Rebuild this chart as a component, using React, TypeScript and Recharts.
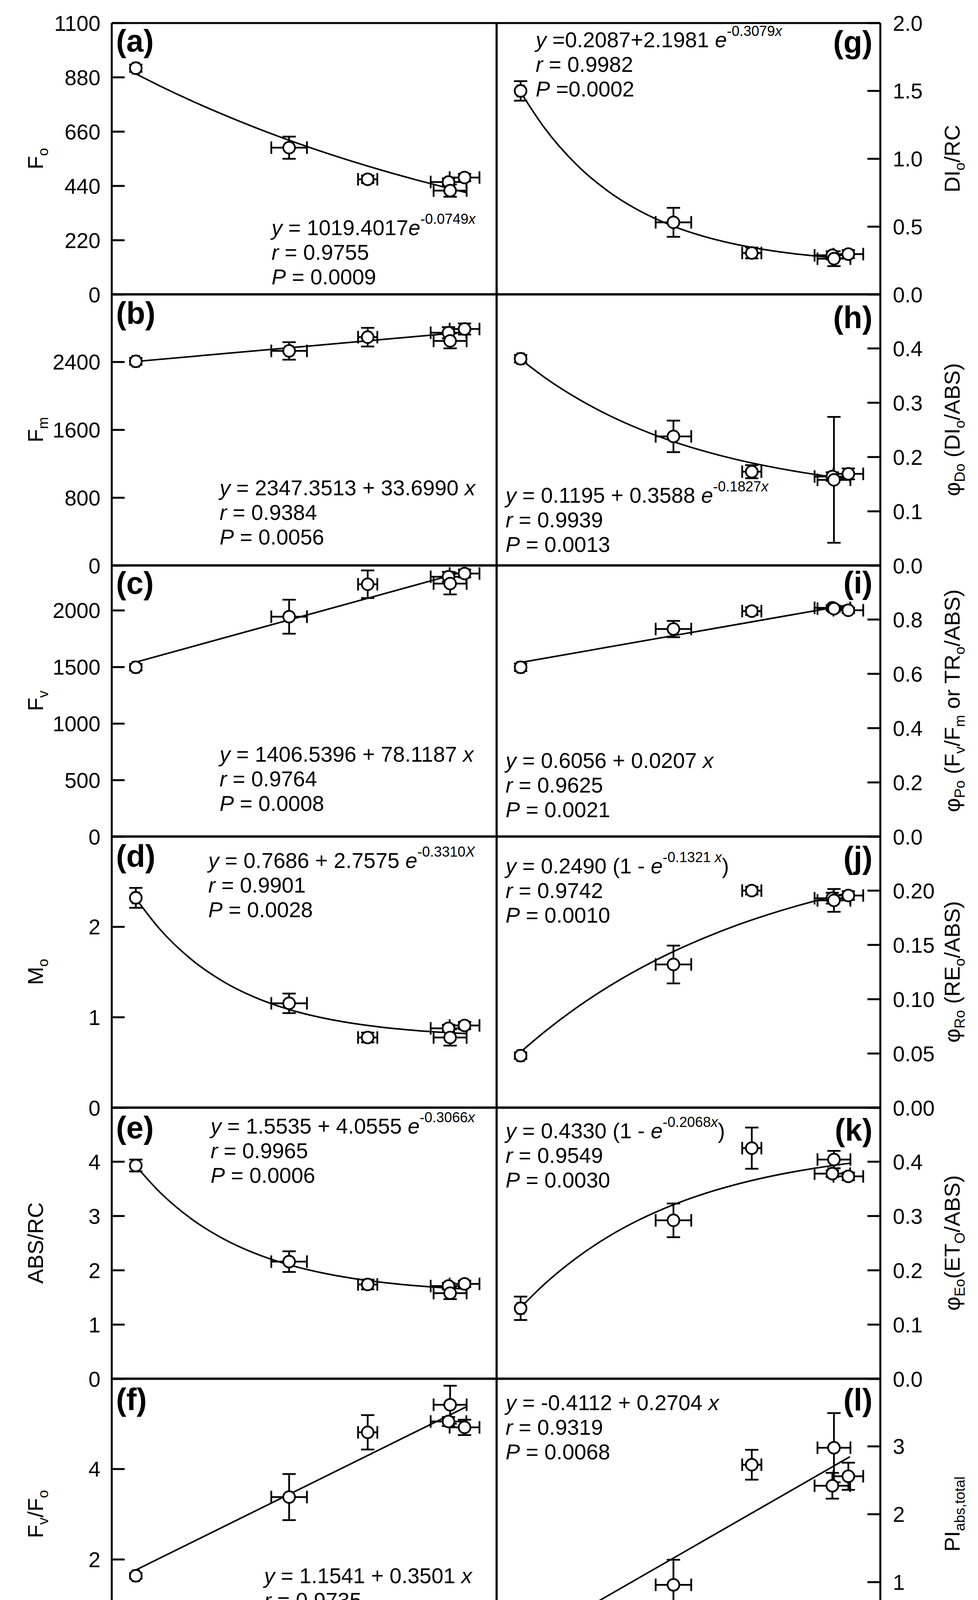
import React from 'react'
import { ComposedChart, ErrorBar, Line, Scatter, XAxis, YAxis } from 'recharts'

// CO2 assimilation of the six treatments (x) and their horizontal errors
const CO2 = [1.75, 6.53, 8.98, 11.5, 11.55, 12.0]
const CO2_SE = [0.1, 0.556, 0.3, 0.556, 0.515, 0.465]

// x positions where the fitted curves were read
const FIT_X = [1.75, 2.5, 3.5, 4.5, 5.5, 6.5, 7.5, 8.5, 9.5, 10.5, 11.5, 12.05]
const LIN_X = [1.75, 12.05]
const X_TICKS = [1, 4, 7, 10, 13]

const FO = [917, 595, 467, 456, 421, 474]
const FO_SE = [15, 45, 15, 15, 25, 15]
const FO_FIT = [894.1, 845.3, 784.3, 727.8, 675.3, 626.6, 581.3, 539.4, 500.5, 464.4, 430.8, 413.4]

const FM = [2408, 2531, 2693, 2745, 2649, 2789]
const FM_SE = [40, 103, 110, 66, 88, 66]
const FM_FIT = [2406.3, 2753.4]

const FV = [1498, 1945, 2232, 2298, 2238, 2327]
const FV_SE = [29, 150, 122, 43, 96, 35]
const FV_FIT = [1543.2, 2347.9]

const MO = [2.32, 1.155, 0.777, 0.878, 0.777, 0.91]
const MO_SE = [0.11, 0.108, 0.054, 0.04, 0.09, 0.04]
const MO_FIT = [2.3136, 1.9739, 1.6345, 1.3905, 1.2153, 1.0894, 0.999, 0.9341, 0.8874, 0.8539, 0.8299, 0.8197]

const ABS_RC = [3.93, 2.16, 1.74, 1.71, 1.58, 1.75]
const ABS_RC_SE = [0.11, 0.19, 0.09, 0.06, 0.11, 0.06]
const ABS_RC_FIT = [3.9248, 3.4377, 2.9401, 2.5743, 2.3046, 2.1063, 1.9603, 1.8529, 1.7738, 1.7156, 1.6728, 1.6543]

const FV_FO = [1.64, 3.38, 4.81, 5.05, 5.42, 4.92]
const FV_FO_SE = [0.06, 0.51, 0.38, 0.1, 0.42, 0.17]
const FV_FO_FIT = [1.767, 5.373]

const DI_RC = [1.5, 0.532, 0.306, 0.289, 0.264, 0.298]
const DI_RC_SE = [0.072, 0.107, 0.04, 0.03, 0.055, 0.03]
const DI_RC_FIT = [1.4911, 1.2267, 0.9569, 0.7587, 0.6129, 0.5057, 0.427, 0.3692, 0.3267, 0.2954, 0.2724, 0.2625]

const PHI_DO = [0.381, 0.238, 0.173, 0.164, 0.158, 0.169]
const PHI_DO_SE = [0.007, 0.029, 0.012, 0.008, 0.116, 0.01]
const PHI_DO_FIT = [0.3801, 0.3467, 0.3088, 0.2772, 0.2509, 0.2289, 0.2107, 0.1954, 0.1828, 0.1722, 0.1634, 0.1592]

const PHI_PO = [0.624, 0.765, 0.831, 0.843, 0.84, 0.834]
const PHI_PO_SE = [0.014, 0.03, 0.014, 0.01, 0.012, 0.01]
const PHI_PO_FIT = [0.6418, 0.855]

const PHI_RO = [0.048, 0.132, 0.2, 0.193, 0.191, 0.1955]
const PHI_RO_SE = [0.003, 0.0174, 0.0036, 0.005, 0.0105, 0.004]
const PHI_RO_FIT = [0.0514, 0.07, 0.0922, 0.1116, 0.1286, 0.1435, 0.1565, 0.168, 0.178, 0.1868, 0.1945, 0.1983]

const PHI_EO = [0.13, 0.292, 0.425, 0.378, 0.404, 0.373]
const PHI_EO_SE = [0.0216, 0.031, 0.038, 0.006, 0.016, 0.007]
const PHI_EO_FIT = [0.1315, 0.1748, 0.223, 0.2623, 0.2942, 0.3201, 0.3412, 0.3583, 0.3723, 0.3836, 0.3929, 0.3972]

const PI_ABS = [0.07, 0.96, 2.73, 2.42, 2.98, 2.56]
const PI_ABS_SE = [0.04, 0.37, 0.22, 0.19, 0.51, 0.2]
const PI_ABS_FIT = [0.062, 2.8471]

// text segments: [text, flags]  i = italic, s = superscript, b = subscript
type Seg = [string, string?]

const FONT = '"Liberation Sans", Arial, sans-serif'
const W = 2503
const H = 4411
const TOP = 59
const PANEL_H = 694
const LEFT_X0 = 286
const MID_X = 1271
const RIGHT_X1 = 2253

interface PanelDef {
  letter: string
  letterY: number
  col: 0 | 1
  row: number
  y: number[]
  se: number[]
  fitX: number[]
  fit: number[]
  domain: [number, number]
  ticks: number[]
  dec: number
  title: Seg[]
  eq: Seg[][]
  eqX: number
  eqY: number
}

const PANELS: PanelDef[] = [
  {
    letter: '(a)', letterY: 73, col: 0, row: 0, y: FO, se: FO_SE, fitX: FIT_X, fit: FO_FIT,
    domain: [0, 1100], ticks: [0, 220, 440, 660, 880, 1100], dec: 0,
    title: [['F'], ['o', 'b']],
    eq: [[['y', 'i'], [' = 1019.4017'], ['e', 'i'], ['-0.0749', 's'], ['x', 'si']], [['r', 'i'], [' = 0.9755']], [['P', 'i'], [' = 0.0009']]],
    eqX: 695, eqY: 543,
  },
  {
    letter: '(b)', letterY: 76, col: 0, row: 1, y: FM, se: FM_SE, fitX: LIN_X, fit: FM_FIT,
    domain: [0, 3200], ticks: [0, 800, 1600, 2400], dec: 0,
    title: [['F'], ['m', 'b']],
    eq: [[['y', 'i'], [' = 2347.3513 + 33.6990 '], ['x', 'i']], [['r', 'i'], [' = 0.9384']], [['P', 'i'], [' = 0.0056']]],
    eqX: 562, eqY: 515,
  },
  {
    letter: '(c)', letterY: 73, col: 0, row: 2, y: FV, se: FV_SE, fitX: LIN_X, fit: FV_FIT,
    domain: [0, 2400], ticks: [0, 500, 1000, 1500, 2000], dec: 0,
    title: [['F'], ['v', 'b']],
    eq: [[['y', 'i'], [' = 1406.5396 + 78.1187 '], ['x', 'i']], [['r', 'i'], [' = 0.9764']], [['P', 'i'], [' = 0.0008']]],
    eqX: 562, eqY: 503,
  },
  {
    letter: '(d)', letterY: 78, col: 0, row: 3, y: MO, se: MO_SE, fitX: FIT_X, fit: MO_FIT,
    domain: [0, 3], ticks: [0, 1, 2], dec: 0,
    title: [['M'], ['o', 'b']],
    eq: [[['y', 'i'], [' = 0.7686 + 2.7575 '], ['e', 'i'], ['-0.3310', 's'], ['X', 'si']], [['r', 'i'], [' = 0.9901']], [['P', 'i'], [' = 0.0028']]],
    eqX: 533, eqY: 81,
  },
  {
    letter: '(e)', letterY: 79, col: 0, row: 4, y: ABS_RC, se: ABS_RC_SE, fitX: FIT_X, fit: ABS_RC_FIT,
    domain: [0, 5], ticks: [0, 1, 2, 3, 4], dec: 0,
    title: [['ABS/RC']],
    eq: [[['y', 'i'], [' = 1.5535 + 4.0555 '], ['e', 'i'], ['-0.3066', 's'], ['x', 'si']], [['r', 'i'], [' = 0.9965']], [['P', 'i'], [' = 0.0006']]],
    eqX: 539, eqY: 67,
  },
  {
    letter: '(f)', letterY: 81, col: 0, row: 5, y: FV_FO, se: FV_FO_SE, fitX: LIN_X, fit: FV_FO_FIT,
    domain: [0, 6], ticks: [0, 2, 4], dec: 0,
    title: [['F'], ['v', 'b'], ['/F'], ['o', 'b']],
    eq: [[['y', 'i'], [' = 1.1541 + 0.3501 '], ['x', 'i']], [['r', 'i'], [' = 0.9735']], [['P', 'i'], [' = 0.0010']]],
    eqX: 676, eqY: 524,
  },
  {
    letter: '(g)', letterY: 76, col: 1, row: 0, y: DI_RC, se: DI_RC_SE, fitX: FIT_X, fit: DI_RC_FIT,
    domain: [0, 2], ticks: [0, 0.5, 1, 1.5, 2], dec: 1,
    title: [['DI'], ['o', 'b'], ['/RC']],
    eq: [[['y', 'i'], [' =0.2087+2.1981 '], ['e', 'i'], ['-0.3079', 's'], ['x', 'si']], [['r', 'i'], [' = 0.9982']], [['P', 'i'], [' =0.0002']]],
    eqX: 1371, eqY: 62,
  },
  {
    letter: '(h)', letterY: 87, col: 1, row: 1, y: PHI_DO, se: PHI_DO_SE, fitX: FIT_X, fit: PHI_DO_FIT,
    domain: [0, 0.5], ticks: [0, 0.1, 0.2, 0.3, 0.4], dec: 1,
    title: [['φ'], ['Do', 'b'], [' (DI'], ['o', 'b'], ['/ABS)']],
    eq: [[['y', 'i'], [' = 0.1195 + 0.3588 '], ['e', 'i'], ['-0.1827', 's'], ['x', 'si']], [['r', 'i'], [' = 0.9939']], [['P', 'i'], [' = 0.0013']]],
    eqX: 1294, eqY: 534,
  },
  {
    letter: '(i)', letterY: 72, col: 1, row: 2, y: PHI_PO, se: PHI_PO_SE, fitX: LIN_X, fit: PHI_PO_FIT,
    domain: [0, 1], ticks: [0, 0.2, 0.4, 0.6, 0.8], dec: 1,
    title: [['φ'], ['Po', 'b'], [' (F'], ['v', 'b'], ['/F'], ['m', 'b'], [' or TR'], ['o', 'b'], ['/ABS)']],
    eq: [[['y', 'i'], [' = 0.6056 + 0.0207 '], ['x', 'i']], [['r', 'i'], [' = 0.9625']], [['P', 'i'], [' = 0.0021']]],
    eqX: 1294, eqY: 519,
  },
  {
    letter: '(j)', letterY: 82, col: 1, row: 3, y: PHI_RO, se: PHI_RO_SE, fitX: FIT_X, fit: PHI_RO_FIT,
    domain: [0, 0.25], ticks: [0, 0.05, 0.1, 0.15, 0.2], dec: 2,
    title: [['φ'], ['Ro', 'b'], [' (RE'], ['o', 'b'], ['/ABS)']],
    eq: [[['y', 'i'], [' = 0.2490 (1 - '], ['e', 'i'], ['-0.1321 ', 's'], ['x', 'si'], [')']], [['r', 'i'], [' = 0.9742']], [['P', 'i'], [' = 0.0010']]],
    eqX: 1294, eqY: 95,
  },
  {
    letter: '(k)', letterY: 85, col: 1, row: 4, y: PHI_EO, se: PHI_EO_SE, fitX: FIT_X, fit: PHI_EO_FIT,
    domain: [0, 0.5], ticks: [0, 0.1, 0.2, 0.3, 0.4], dec: 1,
    title: [['φ'], ['Eo', 'b'], ['(ET'], ['O', 'b'], ['/ABS)']],
    eq: [[['y', 'i'], [' = 0.4330 (1 - '], ['e', 'i'], ['-0.2068', 's'], ['x', 'si'], [')']], [['r', 'i'], [' = 0.9549']], [['P', 'i'], [' = 0.0030']]],
    eqX: 1294, eqY: 79,
  },
  {
    letter: '(l)', letterY: 82, col: 1, row: 5, y: PI_ABS, se: PI_ABS_SE, fitX: LIN_X, fit: PI_ABS_FIT,
    domain: [0, 4], ticks: [0, 1, 2, 3], dec: 0,
    title: [['PI'], ['abs,total', 'b']],
    eq: [[['y', 'i'], [' = -0.4112 + 0.2704 '], ['x', 'i']], [['r', 'i'], [' = 0.9319']], [['P', 'i'], [' = 0.0068']]],
    eqX: 1294, eqY: 81,
  },
]

const X_TITLE: Seg[] = [['CO'], ['2', 'b'], [' assimilation ('], ['μ'], ['mol m'], ['-2', 's'], [' s'], ['-1', 's'], [')']]

const LINE = { stroke: '#000', strokeWidth: 5 }

function Segs({ segs, size }: { segs: Seg[]; size: number }) {
  let shift = 0
  return (
    <>
      {segs.map(([t, f = ''], k) => {
        const sup = f.includes('s')
        const sub = f.includes('b')
        const target = sup ? -size * 0.52 : sub ? size * 0.24 : 0
        const dy = target - shift
        shift = target
        return (
          <tspan
            key={k}
            dy={dy}
            fontStyle={f.includes('i') ? 'italic' : 'normal'}
            fontSize={sup || sub ? size * 0.66 : size}
          >
            {t}
          </tspan>
        )
      })}
    </>
  )
}

const Dot = (props: any) => (
  <circle cx={props.cx} cy={props.cy} r={15} fill="#fff" stroke="#000" strokeWidth={4.5} />
)

function Panel({ p }: { p: PanelDef }) {
  const left = p.col === 0
  const bottom = p.row === 5
  const mb = bottom ? 120 : 59
  // axes are 1px wide, so margins are one less than the 60px gutter
  const margin = left
    ? { top: 59, left: LEFT_X0 - 1, right: 59, bottom: mb }
    : { top: 59, left: 59, right: 249, bottom: mb }
  const width = left ? MID_X + 60 : RIGHT_X1 - MID_X + 60 + 250
  const height = PANEL_H + 61 + 1 + mb
  const pts = CO2.map((x, i) => ({ x, y: p.y[i], ex: CO2_SE[i], ey: p.se[i] }))
  const fit = p.fitX.map((x, i) => ({ x, y: p.fit[i] }))
  const tickFont = { fill: '#000', fontSize: 55, fontFamily: FONT }

  return (
    <div style={{ position: 'absolute', left: left ? 0 : MID_X - 60, top: TOP + p.row * PANEL_H - 60 }}>
      <ComposedChart width={width} height={height} margin={margin}>
        <XAxis
          xAxisId="b"
          type="number"
          dataKey="x"
          domain={[1, 13]}
          ticks={X_TICKS}
          allowDataOverflow
          height={1}
          axisLine={LINE}
          tickLine={LINE}
          tickSize={-30}
          tickMargin={72}
          tick={bottom ? tickFont : false}
          interval={0}
        />
        <XAxis
          xAxisId="t"
          orientation="top"
          type="number"
          domain={[1, 13]}
          allowDataOverflow
          height={1}
          axisLine={LINE}
          tick={false}
          tickLine={false}
        />
        <YAxis
          yAxisId="v"
          orientation={left ? 'left' : 'right'}
          type="number"
          dataKey="y"
          domain={p.domain}
          ticks={p.ticks}
          allowDataOverflow
          width={1}
          axisLine={LINE}
          tickLine={LINE}
          tickSize={-33}
          tickMargin={left ? 62 : 65}
          tick={tickFont}
          interval={0}
          tickFormatter={(v: number) => v.toFixed(p.dec)}
        />
        <YAxis
          yAxisId="o"
          orientation={left ? 'right' : 'left'}
          type="number"
          domain={p.domain}
          allowDataOverflow
          width={1}
          axisLine={LINE}
          tick={false}
          tickLine={false}
        />
        <Line
          xAxisId="b"
          yAxisId="v"
          data={fit}
          dataKey="y"
          type="monotone"
          dot={false}
          activeDot={false}
          stroke="#000"
          strokeWidth={4}
          isAnimationActive={false}
        />
        <Scatter xAxisId="b" yAxisId="v" data={pts} dataKey="y" shape={Dot} isAnimationActive={false}>
          <ErrorBar dataKey="ex" direction="x" width={16} stroke="#000" strokeWidth={4.5} isAnimationActive={false} />
          <ErrorBar dataKey="ey" direction="y" width={17} stroke="#000" strokeWidth={4.5} isAnimationActive={false} />
        </Scatter>
      </ComposedChart>
    </div>
  )
}

function Labels() {
  return (
    <svg
      width={W}
      height={H}
      style={{ position: 'absolute', left: 0, top: 0, pointerEvents: 'none' }}
      fontFamily={FONT}
      fill="#000"
    >
      {PANELS.map((p) => {
        const top = TOP + p.row * PANEL_H
        const left = p.col === 0
        const tx = left ? 110 : 2456
        const ty = top + PANEL_H / 2
        return (
          <g key={p.letter}>
            <text
              x={left ? 297 : 2233}
              y={top + p.letterY}
              fontSize={79}
              fontWeight="bold"
              textAnchor={left ? 'start' : 'end'}
            >
              {p.letter}
            </text>
            {p.eq.map((line, k) => (
              <text key={k} x={p.eqX} y={top + p.eqY + k * 63} fontSize={55}>
                <Segs segs={line} size={55} />
              </text>
            ))}
            <text x={tx} y={ty} textAnchor="middle" transform={`rotate(-90 ${tx} ${ty})`} fontSize={56}>
              <Segs segs={p.title} size={56} />
            </text>
          </g>
        )
      })}
      <text x={(LEFT_X0 + MID_X) / 2} y={4375} textAnchor="middle" fontSize={55}>
        <Segs segs={X_TITLE} size={55} />
      </text>
      <text x={(MID_X + RIGHT_X1) / 2} y={4375} textAnchor="middle" fontSize={55}>
        <Segs segs={X_TITLE} size={55} />
      </text>
    </svg>
  )
}

export default function App() {
  return (
    <div style={{ position: 'relative', width: W, height: H, margin: -8, overflow: 'hidden', background: '#fff' }}>
      {PANELS.map((p) => (
        <Panel key={p.letter} p={p} />
      ))}
      <Labels />
    </div>
  )
}
